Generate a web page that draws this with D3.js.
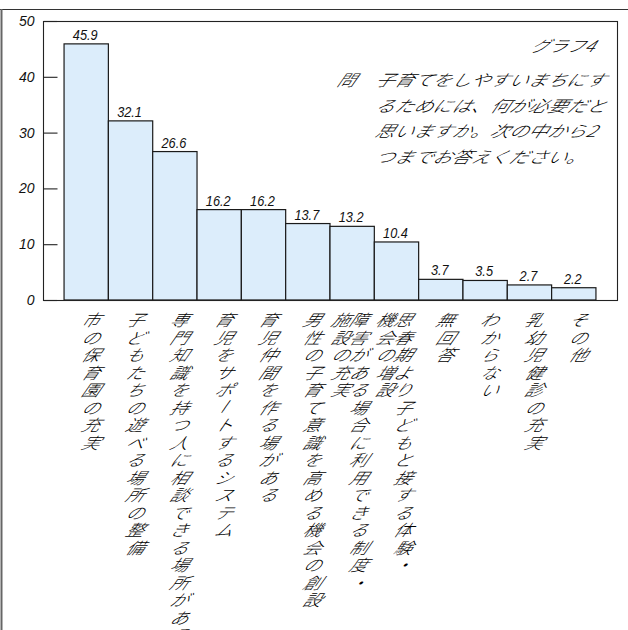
<!DOCTYPE html>
<html><head><meta charset="utf-8">
<script src="https://cdn.jsdelivr.net/npm/d3@7"></script>
<style>body{margin:0;background:#fff} svg{display:block}</style>
</head><body>
<svg id="c" width="628" height="630"></svg>
<script>
// ---- data ----
const categories = [
  "市の保育園の充実",
  "子どもたちの遊べる場所の整備",
  "専門知識を持つ人に相談できる場所がある",
  "育児をサポートするシステム",
  "育児仲間を作る場がある",
  "男性の子育て意識を高める機会の創設",
  "障害がある場合に利用できる制度・\n施設の充実",
  "思春期より子どもと接する体験・\n機会の増設",
  "無回答",
  "わからない",
  "乳幼児健診の充実",
  "その他"
];
const values = [45.9, 32.1, 26.6, 16.2, 16.2, 13.7, 13.2, 10.4, 3.7, 3.5, 2.7, 2.2];
const yTicks = [0, 10, 20, 30, 40, 50];
const chartTitle = "グラフ4";
const questionHead = "問";
const questionLines = [
  "子育てをしやすいまちにす",
  "るためには、何が必要だと",
  "思いますか。次の中から2",
  "つまでお答えください。"
];

// ---- layout ----
const svg = d3.select("#c");
const plot = {left: 43, right: 617, top: 21, bottom: 300};
const x = d3.scaleBand().domain(categories).range([plot.left, plot.right])
  .paddingInner(0).paddingOuter(0.475);
const y = d3.scaleLinear().domain([0, 50]).range([plot.bottom, plot.top]);
const CJK = "'Noto Sans CJK JP','Noto Sans CJK SC',sans-serif";
const SKEW = -0.7; // horizontal shear (oblique glyphs)

function shear(tx, ty, sx) {
  return `matrix(${sx},0,${SKEW},1,${tx},${ty})`;
}

// outer frame (top and left edges)
svg.append("line").attr("x1", 0).attr("x2", 628).attr("y1", 9.5).attr("y2", 9.5)
  .attr("stroke", "#333").attr("stroke-width", 1.2);
svg.append("line").attr("x1", 1.5).attr("x2", 1.5).attr("y1", 9).attr("y2", 630)
  .attr("stroke", "#666").attr("stroke-width", 2);

// bars
svg.append("g").selectAll("rect").data(values).join("rect")
  .attr("x", (d, i) => x(categories[i]))
  .attr("y", d => y(d))
  .attr("width", x.bandwidth())
  .attr("height", d => y(0) - y(d))
  .attr("fill", "#dcedfb")
  .attr("stroke", "#1a1a1a")
  .attr("stroke-width", 1.2);

// plot frame
svg.append("rect").attr("x", plot.left + 0.5).attr("y", plot.top + 0.5)
  .attr("width", plot.right - plot.left).attr("height", plot.bottom - plot.top)
  .attr("fill", "none").attr("stroke", "#222").attr("stroke-width", 1.1);

// y axis
const ax = svg.append("g").attr("transform", `translate(${plot.left + 0.5},0)`)
  .call(d3.axisLeft(y).tickValues(yTicks).tickSize(-14).tickPadding(9));
ax.select(".domain").remove();
ax.selectAll(".tick line").attr("stroke", "#222").attr("stroke-width", 1.1);
ax.selectAll(".tick text").attr("fill", "#111")
  .style("font-family", "'Liberation Sans',Arial,sans-serif")
  .style("font-size", "14px").style("font-style", "italic");

// value labels
svg.append("g").selectAll("text").data(values).join("text")
  .attr("transform", (d, i) =>
    `translate(${x(categories[i]) + x.bandwidth() / 2 - 1},${y(d) - 4}) scale(0.85,1)`)
  .attr("text-anchor", "middle")
  .style("font-family", "'Liberation Sans',Arial,sans-serif")
  .style("font-size", "15px").style("font-style", "italic")
  .attr("fill", "#111")
  .text(d => d.toFixed(1));

// category labels: vertical, one glyph per position
const fs = 16, pitch = 17.5, firstY = 319, colGap = 18;
const lab = svg.append("g").style("font-family", CJK).style("font-size", fs + "px")
  .style("font-weight", 300).attr("fill", "#000");
categories.forEach((c, i) => {
  const cols = c.split("\n");
  const cx = x(c) + x.bandwidth() / 2;
  cols.forEach((col, j) => {
    const colX = cols.length > 1 ? cx + 10 - j * colGap : cx + 8;
    Array.from(col).forEach((ch, k) => {
      const cy = firstY + k * pitch;
      lab.append("text")
        .attr("text-anchor", "middle")
        .attr("dominant-baseline", "central")
        .attr("transform", shear(colX, cy, 1.12) + (ch === "ー" ? " rotate(90)" : ""))
        .text(ch);
    });
  });
});

// title and question
const tg = svg.append("g").style("font-family", CJK).style("font-size", "16px")
  .style("font-weight", 300).attr("fill", "#000");
tg.append("text").attr("transform", shear(593, 52, 1.12))
  .attr("text-anchor", "end").text(chartTitle);
tg.append("text").attr("transform", shear(336, 86, 1.12))
  .text(questionHead);
questionLines.forEach((t, i) => {
  tg.append("text").attr("transform", shear(374, 86 + i * 25.7, 1.2)).text(t);
});
</script>
</body></html>
